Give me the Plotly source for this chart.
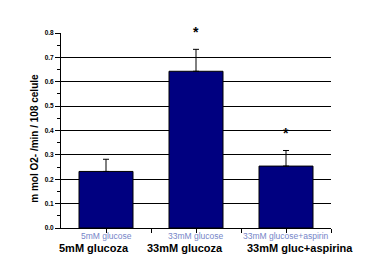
import plotly.graph_objects as go

categories = ["5mM glucoza", "33mM glucoza", "33mM gluc+aspirina"]
english_labels = ["5mM glucose", "33mM glucose", "33mM glucose+aspirin"]
values = [0.232, 0.643, 0.254]
errors = [0.05, 0.09, 0.064]
significance = ["", "*", "*"]
y_title = "m mol O2- /min / 108 celule"

xpos = list(range(len(categories)))
label_shift = [-0.13, -0.12, 0.15]  # horizontal offset of the bold labels (layout)

fig = go.Figure()
fig.add_trace(go.Bar(
    x=xpos, y=values, width=0.6,
    marker=dict(color="#000080", line=dict(color="black", width=1)),
    error_y=dict(type="data", array=errors, arrayminus=[0]*len(errors),
                 symmetric=False, color="black", thickness=1, width=3),
    showlegend=False,
))
fig.add_trace(go.Scatter(x=[0], y=[0], yaxis="y2", mode="markers",
                         marker=dict(opacity=0), showlegend=False, hoverinfo="skip"))

font_fam = "Liberation Sans, Arial, sans-serif"
ymax = 0.8
ann = []
for i, (c, e) in enumerate(zip(categories, english_labels)):
    ann.append(dict(x=i, y=-0.04, xref="x", yref="paper", text=e, showarrow=False,
                    font=dict(family=font_fam, size=8.5, color="#7585c8"), yanchor="middle"))
    ann.append(dict(x=i + label_shift[i], y=-0.10, xref="x", yref="paper", text="<b>" + c + "</b>",
                    showarrow=False, font=dict(family=font_fam, size=11, color="black"),
                    yanchor="middle"))
for i, s in enumerate(significance):
    if s:
        ann.append(dict(x=i, y=(values[i] + errors[i] + 0.073) / ymax, xref="x", yref="paper",
                        text="<b>" + s + "</b>", showarrow=False,
                        font=dict(family=font_fam, size=14, color="black"), yanchor="middle"))
ann.append(dict(x=-0.126, y=0.46, xref="paper", yref="paper", text="<b>" + y_title + "</b>",
                textangle=-90, showarrow=False, font=dict(family=font_fam, size=10, color="black")))

fig.update_layout(
    width=370, height=275,
    margin=dict(l=61, r=39, t=33, b=47),
    paper_bgcolor="white", plot_bgcolor="white",
    xaxis=dict(range=[-0.5, 2.5], showline=True, linecolor="black", linewidth=1,
               tickvals=[0, 0.5, 1, 1.5, 2, 2.5], ticktext=[""]*6, ticks="outside",
               ticklen=4, tickcolor="black", showgrid=False, zeroline=False, fixedrange=True),
    yaxis=dict(range=[0, ymax], showline=True, linecolor="black", linewidth=1,
               dtick=0.1, tickformat=".1f", ticks="outside", ticklen=5, tickcolor="black",
               tickfont=dict(family=font_fam, size=6.5, color="black", weight="bold"),
               minor=dict(dtick=0.05, ticks="outside", ticklen=3, tickcolor="black", showgrid=False),
               showgrid=False, zeroline=False),
    yaxis2=dict(range=[0, ymax], overlaying="y", tickvals=[0.1, 0.2, 0.3, 0.4, 0.5, 0.6, 0.7],
                showticklabels=False, ticks="", showgrid=True, gridcolor="black", gridwidth=1,
                zeroline=False, showline=False),
    annotations=ann,
)
fig.write_html("out.html")
